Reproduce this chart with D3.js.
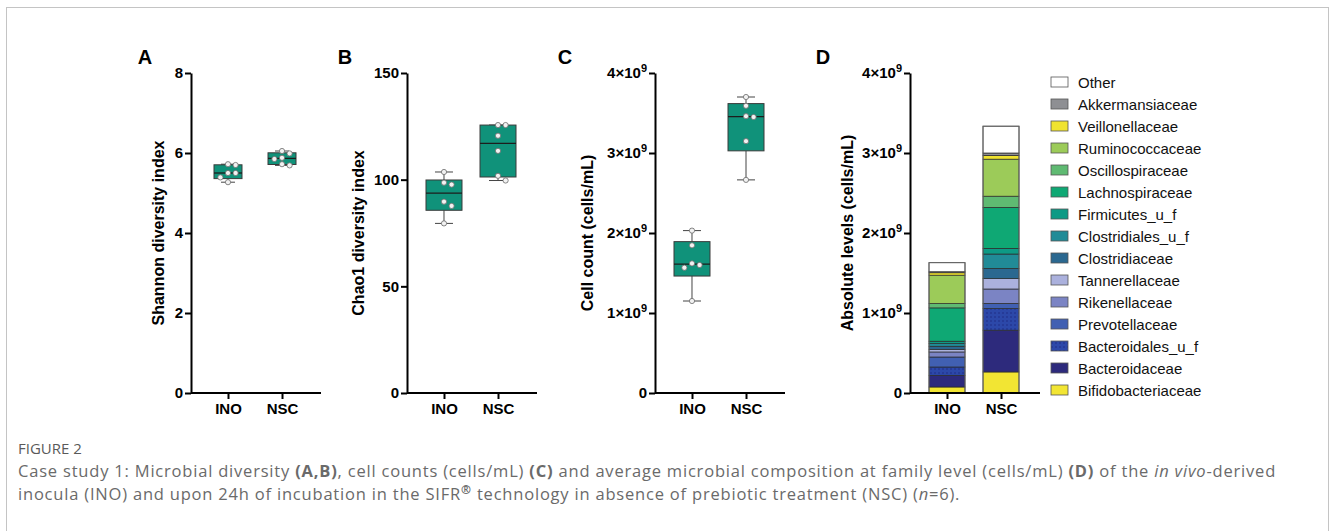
<!DOCTYPE html>
<html>
<head>
<meta charset="utf-8">
<script src="https://cdn.jsdelivr.net/npm/d3@7"></script>
<style>
  body { margin: 0; background: #fff; }
  svg { display: block; font-family: "Liberation Sans", Arial, sans-serif; }
</style>
</head>
<body>
<div id="chart"></div>
<script>
// ---- data ----
const groups = ["INO", "NSC"];

// six replicates per group (n=6)
const shannonINO = [5.72, 5.70, 5.50, 5.50, 5.39, 5.27];
const shannonNSC = [6.05, 5.99, 5.88, 5.85, 5.72, 5.69];
const chaoINO = [103.6, 98.6, 97.7, 89.7, 87.7, 79.5];
const chaoNSC = [125.6, 125.6, 120.6, 113.5, 101.8, 99.6];
const cellsINO = [2.03e9, 1.846e9, 1.62e9, 1.60e9, 1.566e9, 1.15e9];
const cellsNSC = [3.70e9, 3.59e9, 3.46e9, 3.45e9, 3.148e9, 2.664e9];

// family composition, bottom of the stack first (cells/mL)
const families = ["Bifidobacteriaceae", "Bacteroidaceae", "Bacteroidales_u_f", "Prevotellaceae",
  "Rikenellaceae", "Tannerellaceae", "Clostridiaceae", "Clostridiales_u_f", "Firmicutes_u_f",
  "Lachnospiraceae", "Oscillospiraceae", "Ruminococcaceae", "Veillonellaceae", "Akkermansiaceae", "Other"];
const compINO = [0.075e9, 0.146e9, 0.104e9, 0.125e9, 0.063e9, 0.033e9, 0.038e9, 0.033e9, 0.030e9,
  0.417e9, 0.054e9, 0.355e9, 0.030e9, 0.013e9, 0.113e9];
const compNSC = [0.263e9, 0.522e9, 0.271e9, 0.064e9, 0.180e9, 0.130e9, 0.127e9, 0.180e9, 0.071e9,
  0.512e9, 0.140e9, 0.463e9, 0.047e9, 0.030e9, 0.335e9];
const famColors = ["#f2e533", "#2d2a7c", "#2c48a9", "#4160b2", "#7b84c4", "#abb1dd", "#2b6890",
  "#218b97", "#0e9a85", "#0fa874", "#5fba72", "#9ccb59", "#f0e32f", "#8e8f93", "#ffffff"];

const shannonTicks = [0, 2, 4, 6, 8];
const chaoTicks = [0, 50, 100, 150];
const cellTicks = [0, 1e9, 2e9, 3e9, 4e9];

const boxCol = "#10927a";

// ---- layout ----
const w = 1330, h = 531;
const yTop = 73, yBot = 393, axW = 130;

const svg = d3.select("#chart").append("svg").attr("width", w).attr("height", h);
svg.append("rect").attr("width", w).attr("height", h).attr("fill", "#fff");
svg.append("rect").attr("x", 6.5).attr("y", 7.5).attr("width", 1322).attr("height", 600)
  .attr("fill", "none").attr("stroke", "#c4c4c4");

const defs = svg.append("defs");
const pat = defs.append("pattern").attr("id", "dots").attr("patternUnits", "userSpaceOnUse")
  .attr("width", 4).attr("height", 4);
pat.append("rect").attr("width", 4).attr("height", 4).attr("fill", famColors[2]);
pat.append("circle").attr("cx", 1).attr("cy", 1).attr("r", 0.7).attr("fill", "#1a237a");

function sciFmt(sel) {
  sel.each(function(d) {
    const t = d3.select(this);
    if (d === 0) return;
    t.text(null);
    t.append("tspan").text(`${d / 1e9}×10`);
    t.append("tspan").attr("dy", -6).attr("font-size", 11).text("9");
  });
}

function makePanel(x0, yMax, ticks, title, titleDx, letter, letterDx, sci) {
  const g = svg.append("g").attr("transform", `translate(${x0},0)`);
  const y = d3.scaleLinear().domain([0, yMax]).range([yBot, yTop]);
  const x = d3.scalePoint().domain(groups).range([0, 128]).padding(0.685);

  const ya = g.append("g").call(d3.axisLeft(y).tickValues(ticks).tickSize(6).tickSizeOuter(0).tickPadding(2));
  const xa = g.append("g").attr("transform", `translate(0,${yBot})`)
    .call(d3.axisBottom(x).tickSize(6).tickSizeOuter(0).tickPadding(4));
  xa.select(".domain").attr("d", `M0,0H${axW}`);
  [ya, xa].forEach(a => {
    a.select(".domain").attr("stroke", "#000").attr("stroke-width", 2);
    a.selectAll(".tick line").attr("stroke", "#000").attr("stroke-width", 2);
    a.selectAll(".tick text").attr("fill", "#000").attr("font-size", 15).attr("font-weight", "bold")
      .attr("font-family", "Liberation Sans, Arial, sans-serif");
  });
  if (sci) ya.selectAll(".tick text").call(sciFmt);

  g.append("text")
    .attr("transform", `translate(${-titleDx},${(yTop + yBot) / 2}) rotate(-90)`)
    .attr("text-anchor", "middle").attr("dominant-baseline", "central")
    .attr("font-size", 16).attr("font-weight", "bold").text(title);

  g.append("text").attr("x", -letterDx).attr("y", 64).attr("text-anchor", "middle")
    .attr("font-size", 20).attr("font-weight", "bold").text(letter);

  return { g, x, y };
}

// GraphPad style quartiles ((n+1)p)
function quart(vals, p) {
  const s = vals.slice().sort(d3.ascending);
  const pos = (s.length + 1) * p - 1;
  const lo = Math.floor(pos), f = pos - lo;
  return s[lo] + f * ((s[lo + 1] ?? s[lo]) - s[lo]);
}

function boxPlot(pn, data, bw) {
  const { g, x, y } = pn;
  const r = 2.6;
  data.forEach((vals, i) => {
    const cx = x(groups[i]);
    const q1 = quart(vals, 0.25), med = quart(vals, 0.5), q3 = quart(vals, 0.75);
    const mn = d3.min(vals), mx = d3.max(vals);
    const b = g.append("g");
    b.append("line").attr("x1", cx).attr("x2", cx).attr("y1", y(mx)).attr("y2", y(q3)).attr("stroke", "#444");
    b.append("line").attr("x1", cx).attr("x2", cx).attr("y1", y(q1)).attr("y2", y(mn)).attr("stroke", "#444");
    [mn, mx].forEach(v => b.append("line").attr("x1", cx - bw / 4).attr("x2", cx + bw / 4)
      .attr("y1", y(v)).attr("y2", y(v)).attr("stroke", "#444"));
    b.append("rect").attr("x", cx - bw / 2).attr("y", y(q3)).attr("width", bw).attr("height", y(q1) - y(q3))
      .attr("fill", boxCol).attr("stroke", "#3a3a3a").attr("stroke-width", 1);
    b.append("line").attr("x1", cx - bw / 2).attr("x2", cx + bw / 2).attr("y1", y(med)).attr("y2", y(med))
      .attr("stroke", "#1d1d1d").attr("stroke-width", 1.3);

    // simple dodge so overlapping replicates sit side by side
    const placed = [];
    vals.slice().sort(d3.descending).forEach(v => {
      const py = y(v);
      let k = 0, dx = 0;
      const clash = d => placed.some(p => Math.abs(p.y - py) < 2 * r + 0.5 && Math.abs(p.x - d) < 2 * r + 0.5);
      while (clash(dx)) { k++; dx = (k % 2 ? 1 : -1) * Math.ceil(k / 2) * (r + 1.2); }
      placed.push({ x: dx, y: py });
    });
    b.selectAll("circle").data(placed).join("circle")
      .attr("cx", d => cx + d.x).attr("cy", d => d.y).attr("r", r)
      .attr("fill", "#f2f2f2").attr("stroke", "#6a6a6a").attr("stroke-width", 0.8);
  });
}

const pA = makePanel(191, 8, shannonTicks, "Shannon diversity index", 33, "A", 46, false);
boxPlot(pA, [shannonINO, shannonNSC], 28);

const pB = makePanel(407, 150, chaoTicks, "Chao1 diversity index", 49, "B", 62, false);
boxPlot(pB, [chaoINO, chaoNSC], 36);

const pC = makePanel(655, 4e9, cellTicks, "Cell count (cells/mL)", 68, "C", 90, true);
boxPlot(pC, [cellsINO, cellsNSC], 36);

const pD = makePanel(910, 4e9, cellTicks, "Absolute levels (cells/mL)", 63, "D", 87, true);
const rows = groups.map((gname, i) => {
  const vals = i === 0 ? compINO : compNSC;
  const o = { group: gname };
  families.forEach((f, j) => o[f] = vals[j]);
  return o;
});
const stack = d3.stack().keys(families)(rows);
const bw = 36;
pD.g.append("g").selectAll("g").data(stack).join("g")
  .attr("fill", (d, j) => j === 2 ? "url(#dots)" : famColors[j])
  .selectAll("rect").data(d => d).join("rect")
  .attr("x", d => pD.x(d.data.group) - bw / 2).attr("width", bw)
  .attr("y", d => pD.y(d[1])).attr("height", d => pD.y(d[0]) - pD.y(d[1]))
  .attr("stroke", "#2a2a2a").attr("stroke-width", 0.7);
pD.g.append("g").selectAll("rect").data(rows).join("rect")
  .attr("x", d => pD.x(d.group) - bw / 2).attr("width", bw)
  .attr("y", d => pD.y(d3.sum(families, f => d[f]))).attr("height", d => yBot - pD.y(d3.sum(families, f => d[f])))
  .attr("fill", "none").attr("stroke", "#666").attr("stroke-width", 1);
// redraw x axis over the bars
pD.g.append("line").attr("x1", 0).attr("x2", axW).attr("y1", yBot).attr("y2", yBot)
  .attr("stroke", "#000").attr("stroke-width", 2);

// legend, top entry = last stacked family
const leg = svg.append("g").attr("transform", "translate(1051,82)");
const legItems = families.map((f, j) => ({ f, j })).reverse();
const li = leg.selectAll("g").data(legItems).join("g")
  .attr("transform", (d, i) => `translate(0,${i * 22})`);
li.append("rect").attr("x", 0).attr("y", -5).attr("width", 17).attr("height", 10)
  .attr("fill", d => d.j === 2 ? "url(#dots)" : famColors[d.j]).attr("stroke", "#555").attr("stroke-width", 0.8);
li.append("text").attr("x", 27).attr("dominant-baseline", "central").attr("font-size", 15)
  .attr("fill", "#111").text(d => d.f);

// caption
const cap = svg.append("g").attr("font-family", "'Open Sans', 'Noto Sans', sans-serif").attr("fill", "#6a6a6a");
cap.append("text").attr("x", 18).attr("y", 454).attr("font-size", 15).attr("fill", "#5a5a5a").text("FIGURE 2");
const l1 = cap.append("text").attr("x", 18).attr("y", 477).attr("font-size", 16.5).attr("letter-spacing", 0.8);
[["Case study 1: Microbial diversity ", ""], ["(A,B)", "b"], [", cell counts (cells/mL) ", ""], ["(C)", "b"],
 [" and average microbial composition at family level (cells/mL) ", ""], ["(D)", "b"], [" of the ", ""],
 ["in vivo", "i"], ["-derived", ""]].forEach(([t, s]) => {
  const sp = l1.append("tspan").text(t);
  if (s === "b") sp.attr("font-weight", "bold");
  if (s === "i") sp.attr("font-style", "italic");
});
const l2 = cap.append("text").attr("x", 18).attr("y", 500).attr("font-size", 16.5).attr("letter-spacing", 0.8);
l2.append("tspan").text("inocula (INO) and upon 24h of incubation in the SIFR");
l2.append("tspan").attr("dy", -6).attr("font-size", 12).attr("font-weight", "bold").text("®");
l2.append("tspan").attr("dy", 6).text(" technology in absence of prebiotic treatment (NSC) (");
l2.append("tspan").attr("font-style", "italic").text("n");
l2.append("tspan").text("=6).");
</script>
</body>
</html>
